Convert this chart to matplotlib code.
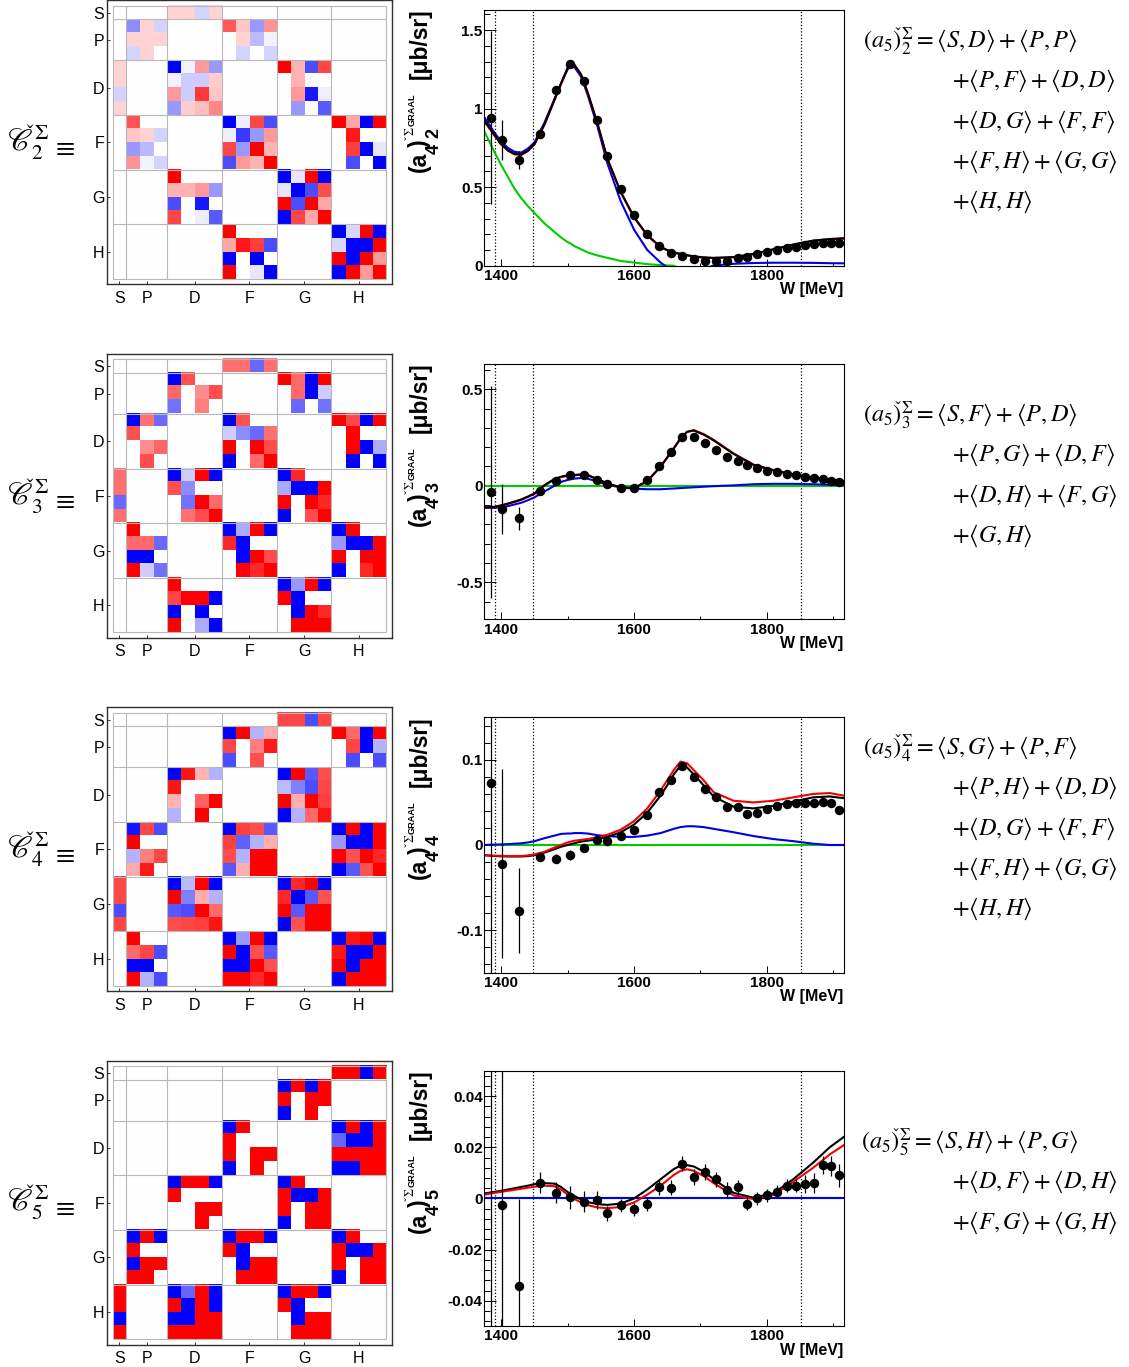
#Import libraries
import matplotlib
matplotlib.use('Agg')
import numpy as np
from matplotlib import pyplot as plt
from matplotlib.colors import LinearSegmentedColormap
from matplotlib.ticker import FixedLocator

plt.rcParams['font.family'] = ['Liberation Sans', 'DejaVu Sans']
plt.rcParams['mathtext.fontset'] = 'stix'

W_PX, H_PX = 1129, 1367

#Correlation matrices, percent, columns S | P P P | D D D D | F F F F | G G G G | H H H H
CORR_2 = [
    [0, 0,0,0, 17,17,-17,17, 0,0,0,0, 0,0,0,0, 0,0,0,0],
    [0, -45,17,-17, 0,0,0,0, 65,22,-40,42, 0,0,0,0, 0,0,0,0],
    [0, 17,17,17, 0,0,0,0, 0,17,-27,-5, 0,0,0,0, 0,0,0,0],
    [0, -17,17,0, 0,0,0,0, 0,-17,0,-17, 0,0,0,0, 0,0,0,0],
    [17, 0,0,0, -100,-5,40,-40, 0,0,0,0, 100,30,-70,72, 0,0,0,0],
    [17, 0,0,0, -5,-20,-20,20, 0,0,0,0, 0,30,0,0, 0,0,0,0],
    [-17, 0,0,0, 40,-20,77,22, 0,0,0,0, 0,40,-90,-7, 0,0,0,0],
    [17, 0,0,0, -40,20,25,47, 0,0,0,0, 0,-40,0,-65, 0,0,0,0],
    [0, 67,0,0, 0,0,0,0, -100,-7,72,-70, 0,0,0,0, 100,35,-100,100],
    [0, 22,17,-17, 0,0,0,0, -7,-78,-40,40, 0,0,0,0, 0,90,0,0],
    [0, -40,-27,0, 0,0,0,0, 72,-40,100,30, 0,0,0,0, 0,75,-100,-10],
    [0, 42,-5,-17, 0,0,0,0, -70,40,30,100, 0,0,0,0, 0,-70,0,-100],
    [0, 0,0,0, 100,0,0,0, 0,0,0,0, -100,-10,100,-100, 0,0,0,0],
    [0, 0,0,0, 30,30,40,-40, 0,0,0,0, -10,-100,-70,70, 0,0,0,0],
    [0, 0,0,0, -70,0,-90,0, 0,0,0,0, 100,-70,100,35, 0,0,0,0],
    [0, 0,0,0, 72,0,-7,-65, 0,0,0,0, -100,72,35,100, 0,0,0,0],
    [0, 0,0,0, 0,0,0,0, 100,0,0,0, 0,0,0,0, -100,-15,100,-100],
    [0, 0,0,0, 0,0,0,0, 35,90,75,-70, 0,0,0,0, -15,-100,-100,100],
    [0, 0,0,0, 0,0,0,0, -100,0,-100,0, 0,0,0,0, 100,-100,100,40],
    [0, 0,0,0, 0,0,0,0, 100,0,-10,-100, 0,0,0,0, -100,100,40,100],
]
CORR_3 = [
    [0, 0,0,0, 0,0,0,0, 55,55,-58,55, 0,0,0,0, 0,0,0,0],
    [0, 0,0,0, -100,68,0,0, 0,0,0,0, 100,58,-100,100, 0,0,0,0],
    [0, 0,0,0, 60,0,45,70, 0,0,0,0, 0,58,-100,-20, 0,0,0,0],
    [0, 0,0,0, -55,0,50,0, 0,0,0,0, 0,-58,0,-55, 0,0,0,0],
    [0, -100,55,-58, 0,0,0,0, -100,68,0,0, 0,0,0,0, 100,72,-100,100],
    [0, 68,0,0, 0,0,0,0, -20,-45,-58,55, 0,0,0,0, 0,100,0,0],
    [0, 0,45,60, 0,0,0,0, 100,0,100,70, 0,0,0,0, 0,100,-100,-33],
    [0, 0,70,0, 0,0,0,0, -100,0,58,100, 0,0,0,0, 0,-100,0,-100],
    [55, 0,0,0, -100,-20,100,-100, 0,0,0,0, -100,85,0,0, 0,0,0,0],
    [55, 0,0,0, 68,-45,0,0, 0,0,0,0, -33,-100,-100,100, 0,0,0,0],
    [-58, 0,0,0, 0,-55,100,58, 0,0,0,0, 100,0,100,85, 0,0,0,0],
    [55, 0,0,0, 0,55,70,100, 0,0,0,0, -100,0,70,100, 0,0,0,0],
    [0, 100,0,0, 0,0,0,0, -100,-33,100,-100, 0,0,0,0, -100,100,0,0],
    [0, 58,58,-58, 0,0,0,0, 85,-100,0,0, 0,0,0,0, -40,-100,-100,100],
    [0, -100,-100,0, 0,0,0,0, 0,-100,100,70, 0,0,0,0, 100,0,100,100],
    [0, 100,-20,-55, 0,0,0,0, 0,100,85,100, 0,0,0,0, -100,0,85,100],
    [0, 0,0,0, 100,0,0,0, 0,0,0,0, -100,-40,100,-100, 0,0,0,0],
    [0, 0,0,0, 72,100,100,-100, 0,0,0,0, 100,-100,0,0, 0,0,0,0],
    [0, 0,0,0, -100,0,-100,0, 0,0,0,0, 0,-100,100,85, 0,0,0,0],
    [0, 0,0,0, 100,0,-33,-100, 0,0,0,0, 0,100,100,100, 0,0,0,0],
]
CORR_4 = [
    [0, 0,0,0, 0,0,0,0, 0,0,0,0, 72,72,-70,72, 0,0,0,0],
    [0, 0,0,0, 0,0,0,0, -100,100,-30,33, 0,0,0,0, 100,58,-100,100],
    [0, 0,0,0, 0,0,0,0, 72,0,50,90, 0,0,0,0, 0,72,-100,-30],
    [0, 0,0,0, 0,0,0,0, -70,0,68,0, 0,0,0,0, 0,-70,0,-70],
    [0, 0,0,0, -100,92,30,-30, 0,0,0,0, -100,100,-65,70, 0,0,0,0],
    [0, 0,0,0, 92,0,0,0, 0,0,0,0, -27,-50,-70,72, 0,0,0,0],
    [0, 0,0,0, 30,0,62,100, 0,0,0,0, 100,32,100,75, 0,0,0,0],
    [0, 0,0,0, -30,0,100,0, 0,0,0,0, -100,-30,58,92, 0,0,0,0],
    [0, -92,72,-70, 0,0,0,0, -100,75,70,-65, 0,0,0,0, -100,100,-100,100],
    [0, 100,0,0, 0,0,0,0, 75,-62,-30,32, 0,0,0,0, -40,-100,-100,100],
    [0, -30,50,72, 0,0,0,0, 70,-30,100,100, 0,0,0,0, 100,68,100,85],
    [0, 33,90,0, 0,0,0,0, -65,32,100,100, 0,0,0,0, -100,-65,68,100],
    [72, 0,0,0, -100,-27,100,-100, 0,0,0,0, -100,85,100,-100, 0,0,0,0],
    [72, 0,0,0, 100,-50,32,-30, 0,0,0,0, 85,-100,-65,68, 0,0,0,0],
    [-70, 0,0,0, -65,-70,100,58, 0,0,0,0, 100,-65,100,100, 0,0,0,0],
    [72, 0,0,0, 70,72,75,92, 0,0,0,0, -100,68,100,100, 0,0,0,0],
    [0, 100,0,0, 0,0,0,0, -100,-40,100,-100, 0,0,0,0, -100,92,100,-100],
    [0, 58,72,-70, 0,0,0,0, 100,-100,68,-65, 0,0,0,0, 92,-100,-100,100],
    [0, -100,-100,0, 0,0,0,0, -100,-100,100,68, 0,0,0,0, 100,-100,100,100],
    [0, 100,-30,-70, 0,0,0,0, 100,100,85,100, 0,0,0,0, -100,100,100,100],
]
CORR_5 = [
    [0, 0,0,0, 0,0,0,0, 0,0,0,0, 0,0,0,0, 100,100,-100,100],
    [0, 0,0,0, 0,0,0,0, 0,0,0,0, -100,100,-100,100, 0,0,0,0],
    [0, 0,0,0, 0,0,0,0, 0,0,0,0, 100,0,100,100, 0,0,0,0],
    [0, 0,0,0, 0,0,0,0, 0,0,0,0, -100,0,100,0, 0,0,0,0],
    [0, 0,0,0, 0,0,0,0, -100,100,0,0, 0,0,0,0, -100,100,-100,100],
    [0, 0,0,0, 0,0,0,0, 100,0,0,0, 0,0,0,0, -60,-100,-100,100],
    [0, 0,0,0, 0,0,0,0, 100,0,100,100, 0,0,0,0, 100,100,100,100],
    [0, 0,0,0, 0,0,0,0, -100,0,100,0, 0,0,0,0, -100,-100,100,100],
    [0, 0,0,0, -100,100,100,-100, 0,0,0,0, -100,100,0,0, 0,0,0,0],
    [0, 0,0,0, 100,0,0,0, 0,0,0,0, 100,-100,-100,100, 0,0,0,0],
    [0, 0,0,0, 0,0,100,100, 0,0,0,0, 100,0,100,100, 0,0,0,0],
    [0, 0,0,0, 0,0,100,0, 0,0,0,0, -100,0,100,100, 0,0,0,0],
    [0, -100,100,-100, 0,0,0,0, -100,100,100,-100, 0,0,0,0, -100,100,0,0],
    [0, 100,0,0, 0,0,0,0, 100,-100,0,0, 0,0,0,0, 100,-100,-100,100],
    [0, -100,100,100, 0,0,0,0, 0,-100,100,100, 0,0,0,0, 100,0,100,100],
    [0, 100,100,0, 0,0,0,0, 0,100,100,100, 0,0,0,0, -100,0,100,100],
    [100, 0,0,0, -100,-60,100,-100, 0,0,0,0, -100,100,100,-100, 0,0,0,0],
    [100, 0,0,0, 100,-100,100,-100, 0,0,0,0, 100,-100,0,0, 0,0,0,0],
    [-100, 0,0,0, -100,-100,100,100, 0,0,0,0, 0,-100,100,100, 0,0,0,0],
    [100, 0,0,0, 100,100,100,100, 0,0,0,0, 0,100,100,100, 0,0,0,0],
]

WAVE_LABELS = ['S', 'P', 'D', 'F', 'G', 'H']
WAVE_TICKS = [0.5, 2.5, 6, 10, 14, 18]
WAVE_EDGES = [1, 4, 8, 12, 16]

#GRAAL data points
W_POINTS = [1384, 1401.5, 1426, 1459, 1483, 1504, 1524, 1544, 1559, 1580, 1599.5, 1620, 1638, 1656, 1673, 1690,
            1707, 1723, 1740, 1756, 1770, 1786, 1801, 1816, 1830, 1844, 1858, 1871, 1885, 1897, 1909]
A2_POINTS = [.943, .798, .673, .841, 1.119, 1.287, 1.178, .926, .699, .488, .323, .2, .123, .079, .062, .04,
             .032, .028, .032, .047, .055, .074, .085, .102, .115, .121, .13, .136, .144, .142, .144]
A2_ERR = [.55, .128, .06, .02, .015, .015, .015, .015, .012, .012, .012, .01, .01, .01, .01, .01,
          .01, .01, .01, .01, .01, .01, .01, .01, .01, .01, .01, .01, .01, .01, .01]
A3_POINTS = [-.031, -.121, -.168, -.028, .024, .054, .054, .029, .007, -.009, -.01, .028, .10, .175, .251, .254,
             .221, .185, .15, .128, .107, .092, .078, .073, .062, .054, .043, .038, .036, .026, .021]
A3_ERR = [.55, .13, .06, .015, .012, .012, .012, .01, .01, .01, .01, .01, .01, .01, .01, .01,
          .01, .01, .01, .01, .01, .01, .01, .01, .01, .01, .01, .01, .01, .01, .01]
A4_POINTS = [.073, -.022, -.077, -.0145, -.016, -.012, -.003, .0055, .005, .011, .0176, .035, .062, .0765, .093, .08,
             .066, .056, .045, .045, .037, .038, .042, .046, .048, .049, .049, .049, .051, .049, .041]
A4_ERR = [.25, .111, .05, .004, .005, .006, .004, .003, .003, .003, .003, .003, .003, .003, .003, .003,
          .003, .003, .003, .003, .003, .003, .003, .003, .003, .003, .003, .003, .003, .003, .003]
A5_POINTS = [.08, -.0027, -.0343, .0062, .0023, .0004, -.0012, -.0005, -.0058, -.0027, -.0043, -.0022, .0043, .0042, .0136, .0084,
             .0104, .0075, .0035, .0044, -.002, 0, .0013, .0027, .005, .005, .0056, .006, .0132, .0126, .009]
A5_ERR = [.2, .1, .034, .004, .004, .0045, .004, .0035, .003, .0025, .0025, .0025, .003, .003, .003, .003,
          .003, .003, .003, .003, .0025, .0025, .0025, .0025, .0025, .0025, .0035, .004, .0035, .004, .0045]

#Fit curves read at these energies
W_CURVE = [1375, 1390, 1400, 1410, 1420, 1430, 1440, 1450, 1465, 1480, 1490, 1500, 1505, 1510, 1520, 1530, 1545, 1560, 1580,
           1600, 1620, 1640, 1650, 1660, 1670, 1680, 1690, 1705, 1720, 1750, 1780, 1810, 1840, 1870, 1895, 1916]
A2_BLACK = [.92, .83, .775, .735, .712, .708, .732, .775, .90, 1.055, 1.16, 1.26, 1.285, 1.28, 1.22, 1.105, .905, .68, .47,
            .31, .195, .12, .10, .085, .075, .067, .06, .053, .05, .055, .075, .105, .135, .16, .17, .175]
A2_RED = [.917, .827, .772, .732, .709, .705, .729, .772, .897, 1.052, 1.157, 1.257, 1.282, 1.277, 1.217, 1.102, .902, .677, .467,
          .307, .192, .118, .098, .083, .073, .065, .058, .051, .048, .053, .073, .103, .133, .158, .168, .172]
A2_BLUE = [.94, .845, .79, .75, .725, .72, .745, .785, .91, 1.06, 1.16, 1.25, 1.27, 1.265, 1.205, 1.09, .885, .65, .41,
           .23, .10, .02, -.01, -.02, -.02, -.02, -.02, -.02, .001, .012, .017, .019, .019, .018, .016, .015]
A2_GREEN = [.85, .72, .64, .565, .49, .43, .38, .335, .27, .215, .18, .15, .14, .125, .105, .085, .065, .05, .03,
            .02, .01, .004, .002, 0, -.02, -.02, -.02, -.02, -.02, -.02, -.02, -.02, -.02, -.02, -.02, -.02]

A3_BLACK = [-.112, -.109, -.101, -.092, -.082, -.071, -.056, -.04, .003, .035, .047, .054, .056, .056, .059, .056, .035, .012, -.008,
            -.012, .025, .10, .147, .195, .245, .28, .286, .265, .235, .165, .108, .08, .058, .042, .03, .02]
A3_RED = [-.114, -.111, -.103, -.094, -.084, -.073, -.058, -.042, .001, .033, .045, .052, .054, .054, .057, .054, .033, .01, -.01,
          -.014, .023, .098, .145, .193, .243, .279, .289, .268, .238, .168, .11, .082, .06, .044, .032, .024]
A3_BLUE = [-.115, -.115, -.111, -.105, -.097, -.088, -.075, -.06, -.03, 0, .02, .03, .034, .037, .04, .037, .022, .005, -.008,
           -.015, -.018, -.018, -.016, -.014, -.012, -.01, -.008, -.005, -.002, .002, .008, .01, .01, .008, .005, .003]
A3_GREEN = [0] * 36

A4_BLACK = [-.012, -.013, -.0133, -.0135, -.0135, -.0135, -.013, -.012, -.009, -.005, -.002, 0, .001, .002, .004, .005, .007, .0095, .015,
            .024, .038, .058, .07, .083, .093, .091, .083, .07, .057, .045, .043, .046, .051, .056, .057, .055]
A4_RED = [-.012, -.0125, -.0128, -.013, -.013, -.013, -.0122, -.011, -.008, -.003, 0, .003, .004, .005, .006, .007, .009, .012, .018,
          .028, .043, .064, .076, .088, .098, .096, .088, .076, .062, .052, .05, .052, .056, .060, .061, .058]
A4_BLUE = [0, .0005, .0007, .001, .0015, .002, .003, .0045, .008, .011, .013, .0135, .0135, .014, .014, .0135, .0115, .0105, .0095,
           .0095, .011, .014, .0165, .019, .021, .022, .022, .021, .019, .015, .0105, .007, .0045, .0015, 0, 0]
A4_GREEN = [0] * 36

A5_BLACK = [.002, .0026, .003, .0035, .004, .0045, .005, .0056, .006, .0058, .0045, .0025, .0018, .001, -.0004, -.0014, -.0022, -.0025, -.002,
            0, .0035, .0075, .0095, .0115, .0128, .013, .0125, .0105, .0075, .0022, .0003, .002, .0075, .014, .02, .024]
A5_RED = [.0015, .0022, .0026, .003, .0034, .0038, .0042, .0046, .005, .0048, .0035, .0015, .0006, -.0002, -.0015, -.0026, -.0035, -.0038, -.0033,
          -.0016, .0015, .005, .0071, .0092, .0108, .0114, .0108, .0088, .006, .0012, -.0002, .0014, .0065, .012, .0172, .0208]
A5_BLUE = [0] * 36
A5_GREEN = [0] * 36

#Energies of the dash-dotted lines
W_LINES = [1390, 1448, 1851]

X_TICKS = [1400, 1600, 1800]
X_MINOR = [1500, 1700, 1900]

Y_TICKS_2 = [0, 0.5, 1, 1.5]
Y_LABELS_2 = ['0', '0.5', '1', '1.5']
Y_TICKS_3 = [-0.5, 0, 0.5]
Y_LABELS_3 = ['-0.5', '0', '0.5']
Y_TICKS_4 = [-0.1, 0, 0.1]
Y_LABELS_4 = ['-0.1', '0', '0.1']
Y_TICKS_5 = [-0.04, -0.02, 0, 0.02, 0.04]
Y_LABELS_5 = ['-0.04', '-0.02', '0', '0.02', '0.04']

#Right hand equations
EQ_2 = [r'\langle S,D\rangle+\langle P,P\rangle', r'+\langle P,F\rangle+\langle D,D\rangle',
        r'+\langle D,G\rangle+\langle F,F\rangle', r'+\langle F,H\rangle+\langle G,G\rangle', r'+\langle H,H\rangle']
EQ_3 = [r'\langle S,F\rangle+\langle P,D\rangle', r'+\langle P,G\rangle+\langle D,F\rangle',
        r'+\langle D,H\rangle+\langle F,G\rangle', r'+\langle G,H\rangle']
EQ_4 = [r'\langle S,G\rangle+\langle P,F\rangle', r'+\langle P,H\rangle+\langle D,D\rangle',
        r'+\langle D,G\rangle+\langle F,F\rangle', r'+\langle F,H\rangle+\langle G,G\rangle', r'+\langle H,H\rangle']
EQ_5 = [r'\langle S,H\rangle+\langle P,G\rangle', r'+\langle D,F\rangle+\langle D,H\rangle',
        r'+\langle F,G\rangle+\langle G,H\rangle']

#Rows of the figure: pixel positions
ORDERS = [2, 3, 4, 5]
CORRS = [CORR_2, CORR_3, CORR_4, CORR_5]
CELL_TOPS = [5.7, 359.3, 712.7, 1066]
PLOT_BOXES = [(10, 265.7), (364, 619.3), (717.3, 972.7), (1070.7, 1326)]
YLIMS = [(0, 1.628), (-0.692, 0.631), (-0.15, 0.15), (-0.0498, 0.0499)]
Y_MINOR = [0.1, 0.1, 0.02, 0.004]
Y_TICKS = [Y_TICKS_2, Y_TICKS_3, Y_TICKS_4, Y_TICKS_5]
Y_LABELS = [Y_LABELS_2, Y_LABELS_3, Y_LABELS_4, Y_LABELS_5]
POINTS = [A2_POINTS, A3_POINTS, A4_POINTS, A5_POINTS]
ERRS = [A2_ERR, A3_ERR, A4_ERR, A5_ERR]
CURVES = [(A2_GREEN, A2_BLUE, A2_RED, A2_BLACK), (A3_GREEN, A3_BLUE, A3_RED, A3_BLACK),
          (A4_GREEN, A4_BLUE, A4_BLACK, A4_RED), (A5_GREEN, A5_BLUE, A5_BLACK, A5_RED)]
GREEN, BLUE, RED, BLACK = '#00cc00', '#0000e6', '#f00000', '#000000'
CURVE_COLORS = [(GREEN, BLUE, RED, BLACK), (GREEN, BLUE, RED, BLACK), (GREEN, BLUE, BLACK, RED), (GREEN, BLUE, BLACK, RED)]
EQS = [EQ_2, EQ_3, EQ_4, EQ_5]
EQ_Y = [41, 415, 748, 1142]
EQ_X = [863, 863, 863, 861]
EQ_STEP = 40.3

def px_axes(left, top, right, bottom):
    return fig.add_axes([left / W_PX, 1 - bottom / H_PX, (right - left) / W_PX, (bottom - top) / H_PX])

def px_text(x, y, s, **kw):
    fig.text(x / W_PX, 1 - y / H_PX, s, ha=kw.pop('ha', 'center'), va=kw.pop('va', 'center'), **kw)

fig = plt.figure(figsize=(W_PX / 100, H_PX / 100), dpi=100)
cmap = LinearSegmentedColormap.from_list('bwr2', ['#0000ff', '#ffffff', '#ff0000'])
cell = 13.65
margin = 5.4 / cell

for i, n in enumerate(ORDERS):
    #Correlation matrix
    top = CELL_TOPS[i]
    ax = px_axes(112.7 - 5.6, top - 5.3, 385.7 + 5.8, top + 273 + 5.6)
    ax.imshow(np.array(CORRS[i]), cmap=cmap, vmin=-100, vmax=100, extent=(0, 20, 20, 0),
              interpolation='nearest', aspect='auto')
    ax.set_xlim(-margin, 20 + margin)
    ax.set_ylim(20 + margin, -margin)
    ax.hlines(WAVE_EDGES + [0, 20], 0, 20, color='#b8b8b8', lw=0.8)
    ax.vlines(WAVE_EDGES + [0, 20], 0, 20, color='#b8b8b8', lw=0.8)
    ax.set_xticks(WAVE_TICKS)
    ax.set_xticklabels(WAVE_LABELS, fontsize=11.5)
    ax.set_yticks(WAVE_TICKS)
    ax.set_yticklabels(WAVE_LABELS, fontsize=11.5)
    ax.tick_params(direction='in', length=2.2, width=0.7, color='#303030')
    ax.tick_params(axis='x', pad=4.5)
    ax.tick_params(axis='y', pad=2)
    for sp in ax.spines.values():
        sp.set_linewidth(1.0)
        sp.set_color('#303030')

    #Left label, script letter and equivalence sign placed apart
    px_text(7, top + 137, r'$\mathscr{C}_{%d}^{\check{\Sigma}}$' % n, ha='left', fontsize=22)
    px_text(63, top + 142, r'$\equiv$', fontsize=20)

    #Fit plot
    ptop, pbot = PLOT_BOXES[i]
    ax = px_axes(484.3, ptop, 843.7, pbot)
    ax.set_xlim(1374.4, 1916)
    ax.set_ylim(*YLIMS[i])
    for w in W_LINES:
        ax.axvline(w, color='black', lw=0.9, ls=(0, (1, 1.6)))
    for vals, col in zip(CURVES[i], CURVE_COLORS[i]):
        ax.plot(W_CURVE, vals, color=col, lw=1.5)
    ax.errorbar(W_POINTS, POINTS[i], yerr=ERRS[i], fmt='o', color='black', ms=5.8, elinewidth=0.9, capsize=0, zorder=5)
    ax.set_xticks(X_TICKS)
    ax.xaxis.set_minor_locator(FixedLocator(X_MINOR))
    ax.set_yticks(Y_TICKS[i])
    ax.set_yticklabels(Y_LABELS[i])
    lo, hi = YLIMS[i]
    k0 = int(np.ceil(lo / Y_MINOR[i]))
    k1 = int(np.floor(hi / Y_MINOR[i]))
    ax.yaxis.set_minor_locator(FixedLocator([k * Y_MINOR[i] for k in range(k0, k1 + 1)]))
    ax.tick_params(axis='x', which='major', direction='in', length=5, width=0.7, pad=2.5, labelsize=11)
    ax.tick_params(axis='x', which='minor', direction='in', length=2.5, width=0.7)
    ax.tick_params(axis='y', which='major', direction='in', length=8.6, width=0.7, pad=1.2, labelsize=11)
    ax.tick_params(axis='y', which='minor', direction='in', length=4.3, width=0.7)
    for lab in ax.get_xticklabels() + ax.get_yticklabels():
        lab.set_fontweight('bold')
    for sp in ax.spines.values():
        sp.set_linewidth(0.8)
    px_text(843.7, pbot + 24, 'W [MeV]', ha='right', fontsize=11.5, fontweight='bold')

    #Rotated y label in pieces
    px_text(420, ptop + 34, '[\u03bcb/sr]', rotation=90, fontsize=16.4, fontweight='bold')
    px_text(419, ptop + 151.7, '(a', rotation=90, fontsize=16.5, fontweight='bold')
    px_text(419, ptop + 132.7, ')', rotation=90, fontsize=16.5, fontweight='bold')
    px_text(434, ptop + 139, '4', rotation=90, fontsize=13, fontweight='bold')
    px_text(434, ptop + 123, str(n), rotation=90, fontsize=13, fontweight='bold')
    px_text(411.7, ptop + 100, 'GRAAL', rotation=90, fontsize=6.6, fontweight='bold')
    px_text(410, ptop + 122.7, r'$\check{\Sigma}$', rotation=90, fontsize=9)

    #Equations
    y = EQ_Y[i]
    px_text(EQ_X[i], y + 1, r'$(a_5)_{%d}^{\check{\Sigma}}=' % n + EQS[i][0] + '$', ha='left', fontsize=17.5)
    for j, line in enumerate(EQS[i][1:]):
        px_text(951.7, y + (j + 1) * EQ_STEP, '$' + line + '$', ha='left', fontsize=17.5)

fig.savefig('out.png', dpi=100)
